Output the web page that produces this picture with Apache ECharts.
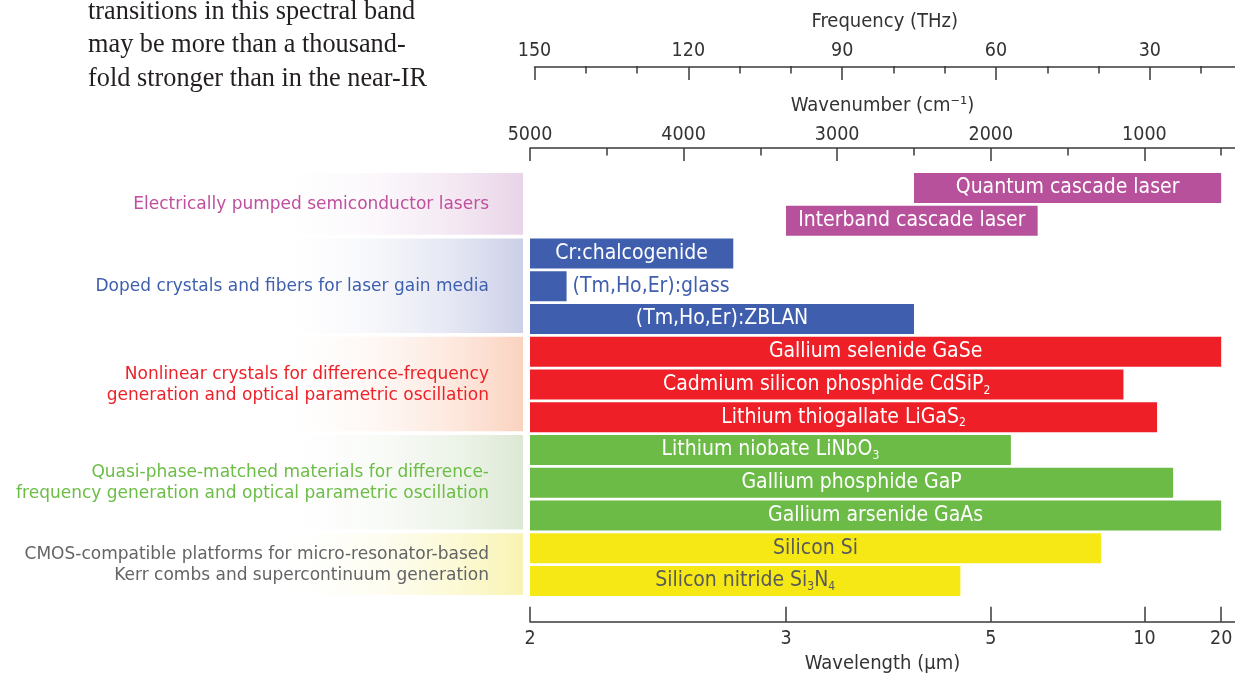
<!DOCTYPE html>
<html>
<head>
<meta charset="utf-8">
<script src="https://cdn.jsdelivr.net/npm/echarts@6.0.0/dist/echarts.min.js"></script>
<style>
  html, body { margin: 0; padding: 0; background: #fff; }
  #main { width: 1235px; height: 673px; }
</style>
</head>
<body>
<div id="main"></div>
<script>
// rows, top to bottom
var rowNames = ['Quantum cascade laser', 'Interband cascade laser', 'Cr:chalcogenide',
  '(Tm,Ho,Er):glass', '(Tm,Ho,Er):ZBLAN', 'Gallium selenide GaSe',
  'Cadmium silicon phosphide CdSiP2', 'Lithium thiogallate LiGaS2', 'Lithium niobate LiNbO3',
  'Gallium phosphide GaP', 'Gallium arsenide GaAs', 'Silicon Si', 'Silicon nitride Si3N4'];
// label text, {s|..} = subscript
var rowLabels = ['Quantum cascade laser', 'Interband cascade laser', 'Cr:chalcogenide',
  '(Tm,Ho,Er):glass', '(Tm,Ho,Er):ZBLAN', 'Gallium selenide GaSe',
  'Cadmium silicon phosphide CdSiP{s|2}', 'Lithium thiogallate LiGaS{s|2}', 'Lithium niobate LiNbO{s|3}',
  'Gallium phosphide GaP', 'Gallium arsenide GaAs', 'Silicon Si', 'Silicon nitride Si{s|3}N{s|4}'];
// spectral coverage in µm
var startUm = [4, 3, 2, 2, 2, 2, 2, 2, 2, 2, 2, 2, 2];
var endUm = [20, 5.9, 2.72, 2.1, 4, 20, 8.8, 10.9, 5.35, 12.3, 20, 7.8, 4.55];
var rowGroup = [0, 0, 1, 1, 1, 2, 2, 2, 3, 3, 3, 4, 4];

var groupNames = ['Electrically pumped semiconductor lasers',
  'Doped crystals and fibers for laser gain media',
  'Nonlinear crystals for difference-frequency\ngeneration and optical parametric oscillation',
  'Quasi-phase-matched materials for difference-\nfrequency generation and optical parametric oscillation',
  'CMOS-compatible platforms for micro-resonator-based\nKerr combs and supercontinuum generation'];
var groupFirst = [0, 2, 5, 8, 11];
var groupLast = [1, 4, 7, 10, 12];

// axis ticks
var freqMajor = [150, 120, 90, 60, 30];
var freqMinor = [140, 130, 110, 100, 80, 70, 50, 40, 20];
var wnMajor = [5000, 4000, 3000, 2000, 1000];
var wnMinor = [4500, 3500, 2500, 1500, 500];
var wlTicks = [2, 3, 5, 10, 20];

var paragraph = ['transitions in this spectral band', 'may be more than a thousand-', 'fold stronger than in the near-IR'];

// styles
var barColors = ['#b8519b', '#3f5ead', '#ee1f26', '#6bbb46', '#f5e814'];
var panelColors = ['#e9d4e8', '#ccd0e8', '#fbd3c0', '#dde9d5', '#f9f4b2'];
var groupText = ['#c04f9e', '#3e5fae', '#ee2129', '#6cbd45', '#636466'];
var barText = ['#fff', '#fff', '#fff', '#fff', '#58595b'];
var axisColor = '#3a3a3a';
var condFont = '"DejaVu Sans Condensed", "DejaVu Sans", sans-serif';
var wnMin = 410, wnMax = 5000, freqMin = 13.4, freqMax = 150;

var toWn = function (um) { return 1e4 / um; };

var barData = rowNames.map(function (n, i) {
  return [i, toWn(startUm[i]), toWn(endUm[i]), rowGroup[i]];
});
var panelData = groupNames.map(function (n, g) {
  return [groupFirst[g], groupLast[g], g];
});

var chart = echarts.init(document.getElementById('main'));

var gridTop = 171.6, gridH = 425.75;
var tickStyle = { color: axisColor, width: 1.5 };
var labelStyle = { color: '#333', fontSize: 19.5, fontFamily: condFont };
var nameStyle = { color: '#333', fontSize: 20, fontFamily: condFont };

chart.setOption({
  animation: false,
  graphic: paragraph.map(function (t, i) {
    return {
      type: 'text', left: 88, top: -1 + i * 33.5,
      style: { text: t, font: '26.3px "Liberation Serif", serif', fill: '#231f20' }
    };
  }),
  grid: [
    { left: 530, right: 0, top: gridTop, height: gridH, outerBoundsMode: 'none', containLabel: false },
    { left: 534.5, right: 0, top: 66, height: 1, outerBoundsMode: 'none', containLabel: false },
    { left: 265, width: 258, top: gridTop, height: gridH, outerBoundsMode: 'none', containLabel: false }
  ],
  xAxis: [
    { // wavelength, bottom
      gridIndex: 0, type: 'value', position: 'bottom', offset: 24.5,
      min: wnMin, max: wnMax, inverse: true,
      axisLine: { show: true, lineStyle: tickStyle },
      axisTick: { show: true, inside: true, length: 15, customValues: wlTicks.map(toWn), lineStyle: tickStyle },
      axisLabel: Object.assign({ customValues: wlTicks.map(toWn), margin: 7,
        formatter: function (v) { return String(Math.round(1e4 / v)); } }, labelStyle),
      splitLine: { show: false },
      name: 'Wavelength (µm)', nameLocation: 'middle', nameGap: 31, nameTextStyle: nameStyle
    },
    { // wavenumber major
      gridIndex: 0, type: 'value', position: 'top', offset: 23.6,
      min: wnMin, max: wnMax, inverse: true,
      axisLine: { show: true, lineStyle: tickStyle },
      axisTick: { show: true, inside: true, length: 13, customValues: wnMajor, lineStyle: tickStyle },
      axisLabel: Object.assign({ customValues: wnMajor, margin: 3,
        formatter: function (v) { return String(v); } }, labelStyle),
      splitLine: { show: false },
      name: 'Wavenumber (cm⁻¹)', nameLocation: 'middle', nameGap: 32, nameTextStyle: nameStyle
    },
    { // wavenumber minor
      gridIndex: 0, type: 'value', position: 'top', offset: 23.6,
      min: wnMin, max: wnMax, inverse: true,
      axisLine: { show: false },
      axisTick: { show: true, inside: true, length: 7.5, customValues: wnMinor, lineStyle: tickStyle },
      axisLabel: { show: false }, splitLine: { show: false }
    },
    { // frequency major
      gridIndex: 1, type: 'value', position: 'top',
      min: freqMin, max: freqMax, inverse: true,
      axisLine: { show: true, lineStyle: tickStyle },
      axisTick: { show: true, inside: true, length: 13, customValues: freqMajor, lineStyle: tickStyle },
      axisLabel: Object.assign({ customValues: freqMajor, margin: 5 }, labelStyle),
      splitLine: { show: false },
      name: 'Frequency (THz)', nameLocation: 'middle', nameGap: 34, nameTextStyle: nameStyle
    },
    { // frequency minor
      gridIndex: 1, type: 'value', position: 'top',
      min: freqMin, max: freqMax, inverse: true,
      axisLine: { show: false },
      axisTick: { show: true, inside: true, length: 7.5, customValues: freqMinor, lineStyle: tickStyle },
      axisLabel: { show: false }, splitLine: { show: false }
    },
    { gridIndex: 2, type: 'value', min: 0, max: 1, show: false }
  ],
  yAxis: [
    { gridIndex: 0, type: 'category', data: rowNames, inverse: true, show: false },
    { gridIndex: 1, type: 'value', show: false },
    { gridIndex: 2, type: 'category', data: rowNames, inverse: true, show: false }
  ],
  series: [
    {
      type: 'custom', xAxisIndex: 5, yAxisIndex: 2, data: panelData, silent: true,
      renderItem: function (params, api) {
        var g = api.value(2);
        var a = api.coord([0, api.value(0)]);
        var b = api.coord([0, api.value(1)]);
        var h = api.size([0, 1])[1] * 0.915;
        var cs = params.coordSys;
        var y0 = a[1] - h / 2, y1 = b[1] + h / 2 - 1;
        return {
          type: 'group',
          children: [{
            type: 'rect',
            shape: { x: cs.x, y: y0, width: cs.width, height: y1 - y0 },
            style: { fill: new echarts.graphic.LinearGradient(0, 0, 1, 0, [
              { offset: 0, color: 'rgba(255,255,255,0)' },
              { offset: 1, color: panelColors[g] }]) }
          }, {
            type: 'text',
            style: {
              text: groupNames[g], x: cs.x + cs.width - 34, y: (y0 + y1) / 2 + 1,
              align: 'right', verticalAlign: 'middle', lineHeight: 21,
              fill: groupText[g], fontSize: 17, fontFamily: '"DejaVu Sans", sans-serif'
            }
          }]
        };
      }
    },
    {
      type: 'custom', xAxisIndex: 0, yAxisIndex: 0, data: barData, silent: true,
      renderItem: function (params, api) {
        var i = params.dataIndex;
        var g = api.value(3);
        var a = api.coord([api.value(1), api.value(0)]);
        var b = api.coord([api.value(2), api.value(0)]);
        var h = api.size([0, 1])[1] * 0.915;
        var x0 = Math.min(a[0], b[0]), w = Math.abs(b[0] - a[0]);
        var outside = w < 60;
        var col = outside ? barColors[g] : barText[g];
        return {
          type: 'rect',
          shape: { x: x0, y: a[1] - h / 2, width: w, height: h },
          style: { fill: barColors[g] },
          textContent: {
            style: {
              text: rowLabels[i], fill: col,
              fontSize: 21, fontFamily: condFont, lineHeight: 24,
              rich: { s: { fontSize: 12, fontFamily: condFont, lineHeight: 10, verticalAlign: 'bottom', fill: col } }
            }
          },
          textConfig: { position: outside ? 'right' : 'inside', distance: 6 }
        };
      }
    }
  ]
});
</script>
</body>
</html>
